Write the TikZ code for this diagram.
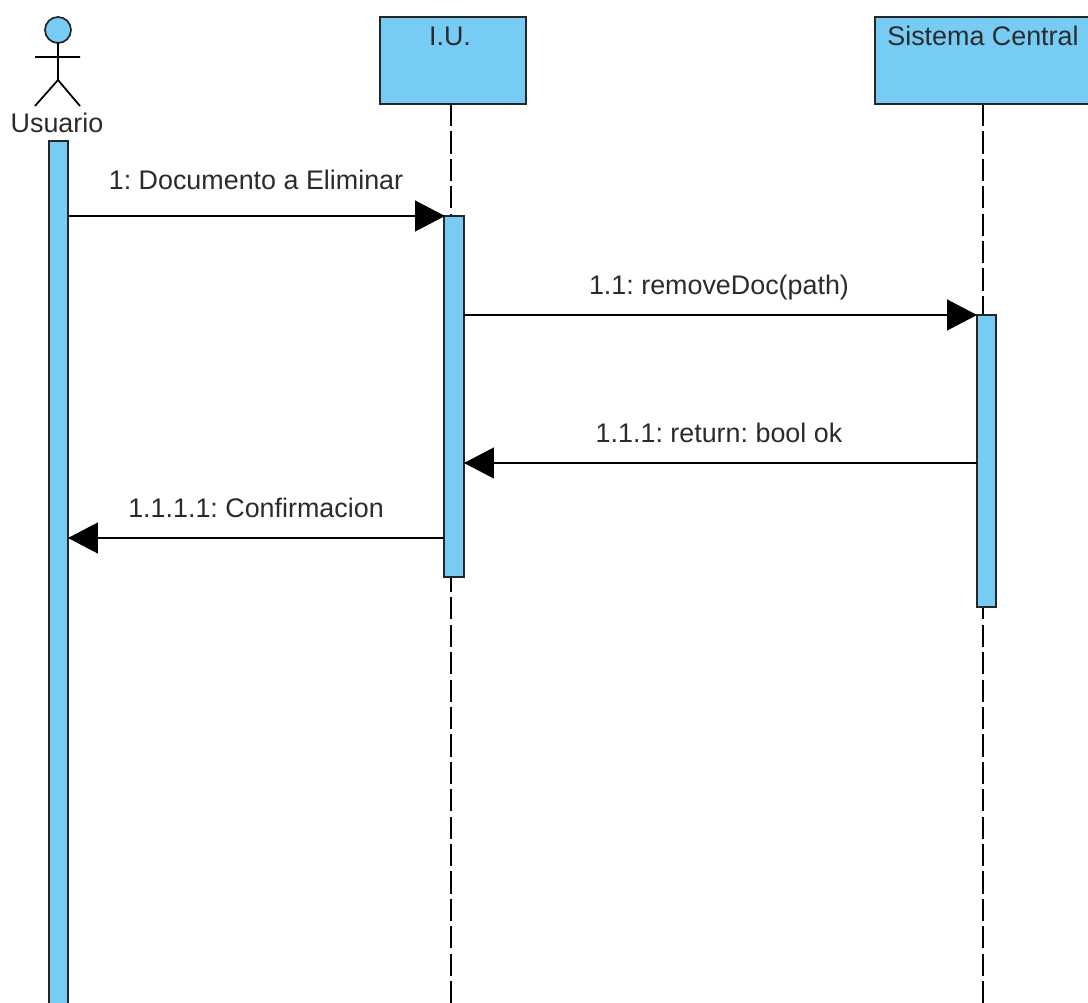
\documentclass[tikz,border=0pt]{standalone}
\usepackage{fontspec}
\setmainfont{Liberation Sans}
\usetikzlibrary{arrows.meta}
\definecolor{umlblue}{HTML}{76CCF4}
\definecolor{umltext}{HTML}{2B2B2B}
\tikzset{
  boxstyle/.style={draw=black!85, fill=umlblue, line width=1pt},
  msgtext/.style={font=\fontsize{15.3}{18}\selectfont\frenchspacing, text=umltext, inner sep=0pt, anchor=base},
  lifeline/.style={line width=0.95pt, dash pattern=on 12.6pt off 3pt},
  msg/.style={line width=1pt, -{Triangle[length=17pt,width=17.5pt]}}
}
\begin{document}
\begin{tikzpicture}[x=0.02cm, y=-0.02cm]
      \useasboundingbox (0, 0) rectangle (1088, 1003);
      % lifelines
      \coordinate (iutop) at (451, 104);
      \coordinate (iuend) at (451, 1003);
      \coordinate (sctop) at (983, 104);
      \coordinate (scend) at (983, 1003);
      \draw [lifeline] (iutop) -- (iuend);
      \draw [lifeline] (sctop) -- (scend);
      % heads
      \draw [boxstyle] (380, 17) rectangle (526, 104)
                       (875, 17) rectangle (1092, 104);
      \node [msgtext] (iu) at (450, 46) {I.U.};
      \node [msgtext] (sc) at (983, 46) {Sistema Central};
      % actor
      \draw [boxstyle] (58, 30) circle (13);
      \draw [line width=1pt] (58, 43) -- (58, 80)
                             (35, 57) -- (80, 57)
                             (35, 106) -- (58, 80) -- (80, 106);
      \node [msgtext] (usuario) at (57, 133) {Usuario};
      % activations
      \draw [boxstyle] (49, 141) rectangle (68, 1010)
                       (444, 216) rectangle (464, 577)
                       (977, 315) rectangle (996, 607);
      % messages
      \coordinate (a1) at (68, 216);
      \coordinate (b1) at (445, 216);
      \coordinate (b2) at (464, 315);
      \coordinate (c2) at (977, 315);
      \coordinate (c3) at (977, 463);
      \coordinate (b3) at (464, 463);
      \coordinate (b4) at (444, 538);
      \coordinate (a4) at (68, 538);
      \draw [msg] (a1) -- (b1);
      \draw [msg] (b2) -- (c2);
      \draw [msg] (c3) -- (b3);
      \draw [msg] (b4) -- (a4);
      \node [msgtext] (m1) at (256, 190) {1: Documento a Eliminar};
      \node [msgtext] (m2) at (719, 295) {1.1: removeDoc(path)};
      \node [msgtext] (m3) at (719, 442) {1.1.1: return: bool ok};
      \node [msgtext] (m4) at (256, 517) {1.1.1.1: Confirmacion};
\end{tikzpicture}
\end{document}
